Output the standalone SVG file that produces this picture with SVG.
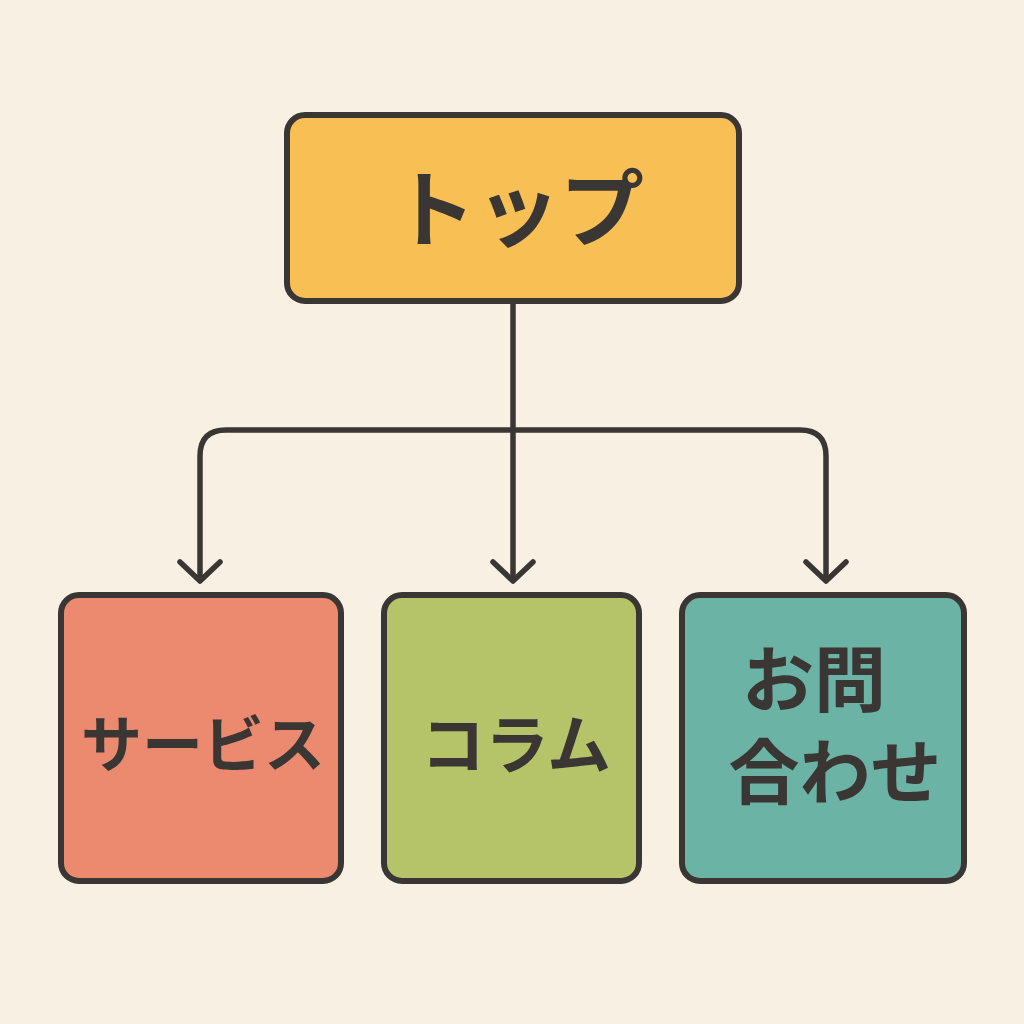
<svg xmlns="http://www.w3.org/2000/svg" width="1024" height="1024" viewBox="0 0 1024 1024">
<defs>
<style>
.box{stroke:#3a3634;stroke-width:6}
.lbl{font-family:"Noto Sans CJK JP","Noto Sans CJK SC",sans-serif;font-weight:700;fill:#3a3634;text-anchor:middle}
.con{fill:none;stroke:#3a3634;stroke-width:5.5;stroke-linecap:round;stroke-linejoin:round}
</style>
</defs>
<rect width="1024" height="1024" fill="#F8F0E2"/>
<g id="connectors">
<path class="con" d="M513,302 L513,580"/>
<path class="con" d="M513,430 L226,430 Q200,430 200,456 L200,580"/>
<path class="con" d="M513,430 L800,430 Q826,430 826,456 L826,580"/>
<path class="con" d="M180,562 L200,581 L220,562"/>
<path class="con" d="M493,562 L513,581 L533,562"/>
<path class="con" d="M806,562 L826,581 L846,562"/>
</g>
<g id="node-top">
<rect class="box" x="287" y="115" width="452" height="186" rx="18" fill="#F8BF55"/>
<text class="lbl" x="518" y="240" font-size="84">トップ</text>
</g>
<g id="node-service">
<rect class="box" x="61" y="595" width="280" height="286" rx="18" fill="#EC8A70"/>
<text class="lbl" x="203" y="767" font-size="61">サービス</text>
</g>
<g id="node-column">
<rect class="box" x="384" y="595" width="255" height="286" rx="18" fill="#B5C468"/>
<text class="lbl" x="516" y="768" font-size="64">コラム</text>
</g>
<g id="node-contact">
<rect class="box" x="682" y="595" width="282" height="286" rx="18" fill="#6BB3A4"/>
<text class="lbl" x="814" y="706" font-size="72">お問</text>
<text class="lbl" x="835" y="798" font-size="71">合わせ</text>
</g>
</svg>
